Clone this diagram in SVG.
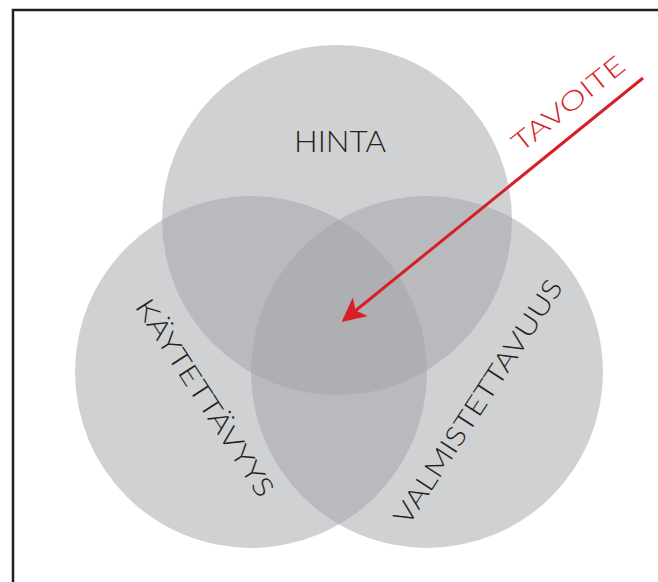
<svg xmlns="http://www.w3.org/2000/svg" width="658" height="582" viewBox="0 0 658 582">
<style>
.c{fill:#a2a4a7;fill-opacity:0.5}
.t{font-family:Lato,"Open Sans",sans-serif;font-size:26px;font-weight:300;fill:#231f20;text-anchor:middle}
</style>
<defs>
<marker id="ah" markerWidth="8" markerHeight="8" refX="7" refY="4" orient="auto" markerUnits="strokeWidth">
<path d="M0,0 L8,4 L0,8 L2,4 Z" fill="#d71f26"/>
</marker>
</defs>
<rect x="13" y="10" width="700" height="620" fill="#ffffff" stroke="#231f20" stroke-width="2.5"/>
<g id="hinta">
<circle class="c" cx="337" cy="220" r="175"/>
<text class="t" x="340" y="152" textLength="92" lengthAdjust="spacingAndGlyphs" style="font-size:30px">HINTA</text>
</g>
<g id="kaytettavyys">
<circle class="c" cx="251" cy="372" r="176"/>
<text class="t" transform="translate(197,403) rotate(57)" x="0" y="0" textLength="230" lengthAdjust="spacingAndGlyphs" style="font-size:27px">KÄYTETTÄVYYS</text>
</g>
<g id="valmistettavuus">
<circle class="c" cx="427" cy="372" r="176"/>
<text class="t" transform="translate(486,407) rotate(-57)" x="0" y="0" textLength="286" lengthAdjust="spacingAndGlyphs" style="font-size:27px">VALMISTETTAVUUS</text>
</g>
<g id="tavoite">
<text class="t" style="fill:#d71f26" transform="translate(574,111) rotate(-38.5)" x="0" y="0" textLength="136" lengthAdjust="spacingAndGlyphs">TAVOITE</text>
</g>
<g id="connectors">
<line x1="643" y1="78" x2="344" y2="320" stroke="#d71f26" stroke-width="3" marker-end="url(#ah)"/>
</g>
</svg>
